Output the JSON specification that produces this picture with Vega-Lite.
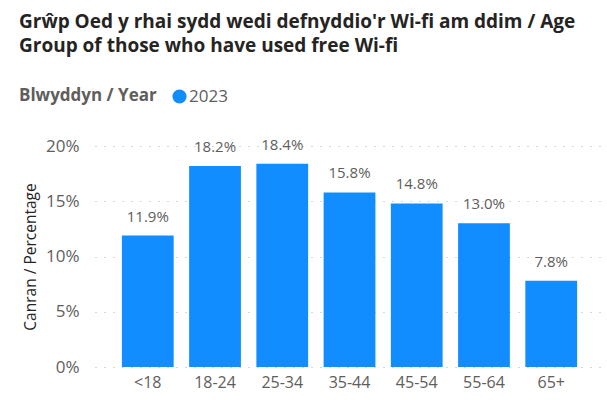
{
  "$schema": "https://vega.github.io/schema/vega-lite/v6.json",
  "width": 509,
  "height": 221,
  "autosize": {"type": "none"},
  "padding": {"left": 95, "top": 146, "right": 3, "bottom": 41},
  "background": "#ffffff",
  "config": {
    "font": "Open Sans",
    "view": {"stroke": null}
  },
  "title": {
    "text": ["Grŵp Oed y rhai sydd wedi defnyddio'r Wi-fi am ddim / Age", "Group of those who have used free Wi-fi"],
    "anchor": "start",
    "frame": "group",
    "dx": -76,
    "fontSize": 19,
    "fontWeight": "bold",
    "color": "#252423",
    "font": "Open Sans",
    "lineHeight": 24,
    "offset": 32
  },
  "data": {
    "values": [
      {"AgeGroup": "<18", "Value": 0.119, "Year": "2023"},
      {"AgeGroup": "18-24", "Value": 0.182, "Year": "2023"},
      {"AgeGroup": "25-34", "Value": 0.184, "Year": "2023"},
      {"AgeGroup": "35-44", "Value": 0.158, "Year": "2023"},
      {"AgeGroup": "45-54", "Value": 0.148, "Year": "2023"},
      {"AgeGroup": "55-64", "Value": 0.130, "Year": "2023"},
      {"AgeGroup": "65+", "Value": 0.078, "Year": "2023"}
    ]
  },
  "encoding": {
    "x": {
      "field": "AgeGroup",
      "type": "nominal",
      "sort": null,
      "scale": {"paddingInner": 0.23, "paddingOuter": 0.4},
      "axis": {
        "title": null,
        "labelAngle": 0,
        "labelFontSize": 16,
        "labelColor": "#605E5C",
        "labelPadding": 7,
        "domain": false,
        "ticks": false,
        "grid": false
      }
    },
    "y": {
      "field": "Value",
      "type": "quantitative",
      "scale": {"domain": [0, 0.2], "nice": false},
      "axis": {
        "title": "Canran / Percentage",
        "titleFontSize": 15.5,
        "titleFontWeight": "normal",
        "titleColor": "#252423",
        "titlePadding": 7,
        "values": [0, 0.05, 0.1, 0.15, 0.2],
        "format": ".0%",
        "labelFontSize": 17,
        "labelColor": "#605E5C",
        "labelPadding": 16,
        "domain": false,
        "ticks": false,
        "grid": true,
        "gridColor": "#B3B0AD",
        "gridDash": [1, 8],
        "gridWidth": 1
      }
    }
  },
  "layer": [
    {
      "mark": {"type": "bar", "color": "#118DFF"},
      "encoding": {
        "color": {
          "field": "Year",
          "type": "nominal",
          "scale": {"range": ["#118DFF"]},
          "legend": {
            "title": "Blwyddyn / Year",
            "orient": "none",
            "legendX": -76,
            "legendY": -58,
            "direction": "horizontal",
            "titleOrient": "left",
            "titleFontSize": 17,
            "titleFontWeight": "bold",
            "titleColor": "#605E5C",
            "titlePadding": 14,
            "labelFontSize": 17,
            "labelColor": "#605E5C",
            "labelOffset": 1,
            "symbolType": "circle",
            "symbolSize": 200,
            "symbolStrokeWidth": 0
          }
        }
      }
    },
    {
      "mark": {"type": "text", "baseline": "alphabetic", "dy": -14, "fontSize": 15, "color": "#605E5C"},
      "encoding": {
        "text": {"field": "Value", "type": "quantitative", "format": ".1%"}
      }
    }
  ]
}
